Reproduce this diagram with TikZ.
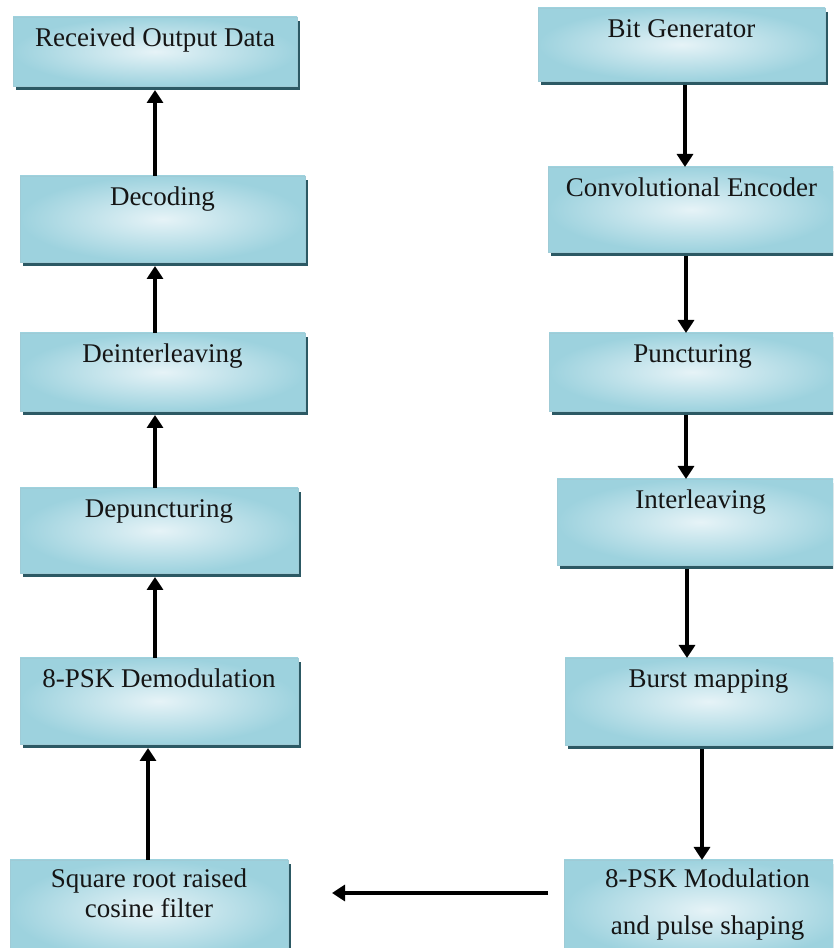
\documentclass[tikz,border=0pt]{standalone}
\usepackage{fontspec}
\setmainfont{Liberation Serif}
\usetikzlibrary{arrows.meta,calc,shadows}
\definecolor{boxedge}{HTML}{9DD2DE}
\definecolor{boxmid}{HTML}{E6F3F7}
\definecolor{boxshadow}{HTML}{2C5964}
\definecolor{boxline}{HTML}{9FCBD6}
\definecolor{txtcol}{HTML}{151515}
\tikzset{
  blk/.style={rectangle, anchor=north west, inner sep=0pt, outer sep=0pt,
    inner color=boxmid, outer color=boxedge, draw=boxline, line width=0.6pt,
    general shadow={fill=boxshadow, shadow xshift=3pt, shadow yshift=-4pt}},
  txt/.style={anchor=base, inner sep=0pt, font=\fontsize{27}{32}\selectfont, text=txtcol},
  arr/.style={line width=4pt, -{Triangle[width=16pt,length=13pt]}},
}
\begin{document}
\begin{tikzpicture}[x=1pt,y=1pt]
\useasboundingbox (0,0) rectangle (833,948);
\clip (0,0) rectangle (833,948);
% left column (receiver)
\node[blk, minimum width=284pt, minimum height=69pt] (rcv) at (13,931) {};
\node[blk, minimum width=285pt, minimum height=86pt] (dec) at (20,772) {};
\node[blk, minimum width=285pt, minimum height=78pt] (dei) at (20,615) {};
\node[blk, minimum width=278pt, minimum height=85pt] (dep) at (20,460) {};
\node[blk, minimum width=278pt, minimum height=86pt] (dem) at (20,290) {};
\node[blk, minimum width=278pt, minimum height=100pt] (sqr) at (10,88) {};
% right column (transmitter)
\node[blk, minimum width=287pt, minimum height=73pt] (bg) at (538,940) {};
\node[blk, minimum width=287pt, minimum height=85pt] (ce) at (548,781) {};
\node[blk, minimum width=287pt, minimum height=78pt] (pu) at (549,615) {};
\node[blk, minimum width=287pt, minimum height=86pt] (il) at (557,469) {};
\node[blk, minimum width=287pt, minimum height=87pt] (bm) at (565,290) {};
\node[blk, minimum width=287pt, minimum height=100pt] (mod) at (564,88) {};
% labels
\node[txt] (trcv) at ($(rcv.north)+(0,-30)$) {Received Output Data};
\node[txt] (tdec) at ($(dec.north)+(0,-30)$) {Decoding};
\node[txt] (tdei) at ($(dei.north)+(0,-30)$) {Deinterleaving};
\node[txt] (tdep) at ($(dep.north)+(0,-30)$) {Depuncturing};
\node[txt] (tdem) at ($(dem.north)+(0,-30)$) {8-PSK Demodulation};
\node[txt] (tsqr1) at ($(sqr.north)+(0,-28)$) {Square root raised};
\node[txt] (tsqr2) at ($(sqr.north)+(0,-58)$) {cosine filter};
\node[txt] (tbg) at ($(bg.north)+(0,-30)$) {Bit Generator};
\node[txt] (tce) at ($(ce.north)+(0,-30)$) {Convolutional Encoder};
\node[txt] (tpu) at ($(pu.north)+(0,-30)$) {Puncturing};
\node[txt] (til) at ($(il.north)+(0,-30)$) {Interleaving};
\node[txt] (tbm) at ($(bm.north)+(0,-30)$) {Burst mapping};
\node[txt] (tmod1) at ($(mod.north)+(0,-28)$) {8-PSK Modulation};
\node[txt] (tmod2) at ($(mod.north)+(0,-75)$) {and pulse shaping};
% transmitter arrows
\draw[arr] ([xshift=3.5pt,yshift=-4pt]bg.south) -- ([xshift=-6.5pt]ce.north);
\draw[arr] ([xshift=-5.5pt,yshift=-4pt]ce.south) -- ([xshift=-6.5pt]pu.north);
\draw[arr] ([xshift=-6.5pt,yshift=-4pt]pu.south) -- ([xshift=-14.5pt]il.north);
\draw[arr] ([xshift=-13.5pt,yshift=-4pt]il.south) -- ([xshift=-21.5pt]bm.north);
\draw[arr] ([xshift=-6.5pt,yshift=-4pt]bm.south) -- ([xshift=-5.5pt]mod.north);
% channel arrow
\coordinate (hs) at ($(mod.north west)+(-16,-33)$);
\coordinate (he) at ($(sqr.north east)+(44,-33)$);
\draw[arr] (hs) -- (he);
% receiver arrows
\draw[arr] ([xshift=-1pt]sqr.north) -- ([xshift=-11pt,yshift=-4pt]dem.south);
\draw[arr] ([xshift=-4pt]dem.north) -- ([xshift=-4pt,yshift=-4pt]dep.south);
\draw[arr] ([xshift=-4pt]dep.north) -- ([xshift=-7.5pt,yshift=-4pt]dei.south);
\draw[arr] ([xshift=-7.5pt]dei.north) -- ([xshift=-7.5pt,yshift=-4pt]dec.south);
\draw[arr] ([xshift=-7.5pt]dec.north) -- ([yshift=-4pt]rcv.south);
\end{tikzpicture}
\end{document}
